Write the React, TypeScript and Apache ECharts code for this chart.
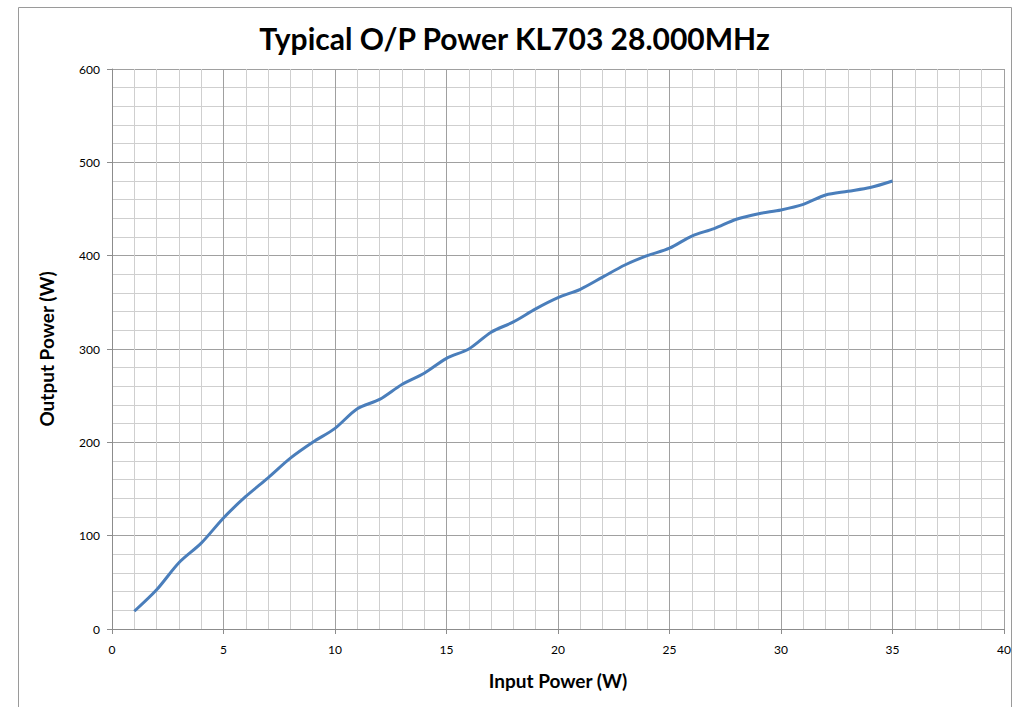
import React, { useEffect, useRef } from "react";
import * as echarts from "echarts";

const inputPower = [1, 2, 3, 4, 5, 6, 7, 8, 9, 10, 11, 12, 13, 14, 15, 16, 17, 18, 19, 20, 21, 22, 23, 24, 25, 26, 27, 28, 29, 30, 31, 32, 33, 34, 35];
const outputPower = [19, 42, 71, 92, 119, 142, 162, 183, 200, 215, 236, 246, 262, 274, 290, 300, 318, 329, 343, 355, 364, 377, 390, 400, 408, 421, 429, 439, 445, 449, 455, 465, 469, 473, 480];

const titleText = "Typical O/P Power KL703 28.000MHz";
const xAxisTitle = "Input Power (W)";
const yAxisTitle = "Output Power (W)";

export default function App() {
  const ref = useRef<HTMLDivElement>(null);
  useEffect(() => {
    if (!ref.current) return;
    const chart = echarts.init(ref.current, null, { renderer: "svg" });
    const data = inputPower.map((x, i) => [x, outputPower[i]]);
    const font = "Lato, 'Open Sans', sans-serif";
    chart.setOption({
      animation: false,
      backgroundColor: "#ffffff",
      title: {
        text: titleText,
        left: "center",
        top: 18,
        textStyle: { fontFamily: font, fontWeight: "bold", fontSize: 30, color: "#000" },
      },
      graphic: [
        {
          type: "rect",
          shape: { x: 18.5, y: 7.5, width: 993, height: 720 },
          style: { fill: "none", stroke: "#9a9a9a", lineWidth: 1 },
          silent: true,
          z: -10,
        },
      ],
      grid: { left: 112, right: 25, top: 69, bottom: 78, containLabel: false },
      xAxis: {
        type: "value",
        min: 0,
        max: 40,
        interval: 5,
        name: xAxisTitle,
        nameLocation: "middle",
        nameGap: 42,
        nameTextStyle: { fontFamily: font, fontWeight: "bold", fontSize: 19, color: "#000" },
        axisLine: { show: true, lineStyle: { color: "#8c8c8c", width: 1 } },
        axisTick: { show: true, length: 5, lineStyle: { color: "#8c8c8c" } },
        axisLabel: { fontFamily: font, fontSize: 12, color: "#000", margin: 14 },
        splitLine: { show: true, lineStyle: { color: "#a0a0a0", width: 1 } },
        minorTick: { show: false, splitNumber: 5 },
        minorSplitLine: { show: true, lineStyle: { color: "#cfcfcf", width: 1 } },
      },
      yAxis: {
        type: "value",
        min: 0,
        max: 600,
        interval: 100,
        name: yAxisTitle,
        nameLocation: "middle",
        nameGap: 56,
        nameRotate: 90,
        nameTextStyle: { fontFamily: font, fontWeight: "bold", fontSize: 19, color: "#000" },
        axisLine: { show: true, lineStyle: { color: "#8c8c8c", width: 1 } },
        axisTick: { show: true, length: 5, lineStyle: { color: "#8c8c8c" } },
        axisLabel: { fontFamily: font, fontSize: 12, color: "#000", margin: 12 },
        splitLine: { show: true, lineStyle: { color: "#a0a0a0", width: 1 } },
        minorTick: { show: false, splitNumber: 5 },
        minorSplitLine: { show: true, lineStyle: { color: "#cfcfcf", width: 1 } },
      },
      series: [
        {
          type: "line",
          data,
          smooth: 0.3,
          showSymbol: false,
          symbol: "none",
          lineStyle: { color: "#4a7ebb", width: 3 },
          itemStyle: { color: "#4a7ebb" },
        },
      ],
    });
    return () => chart.dispose();
  }, []);
  return (
    <div
      ref={ref}
      style={{ position: "absolute", left: 0, top: 0, width: 1029, height: 707 }}
    />
  );
}
